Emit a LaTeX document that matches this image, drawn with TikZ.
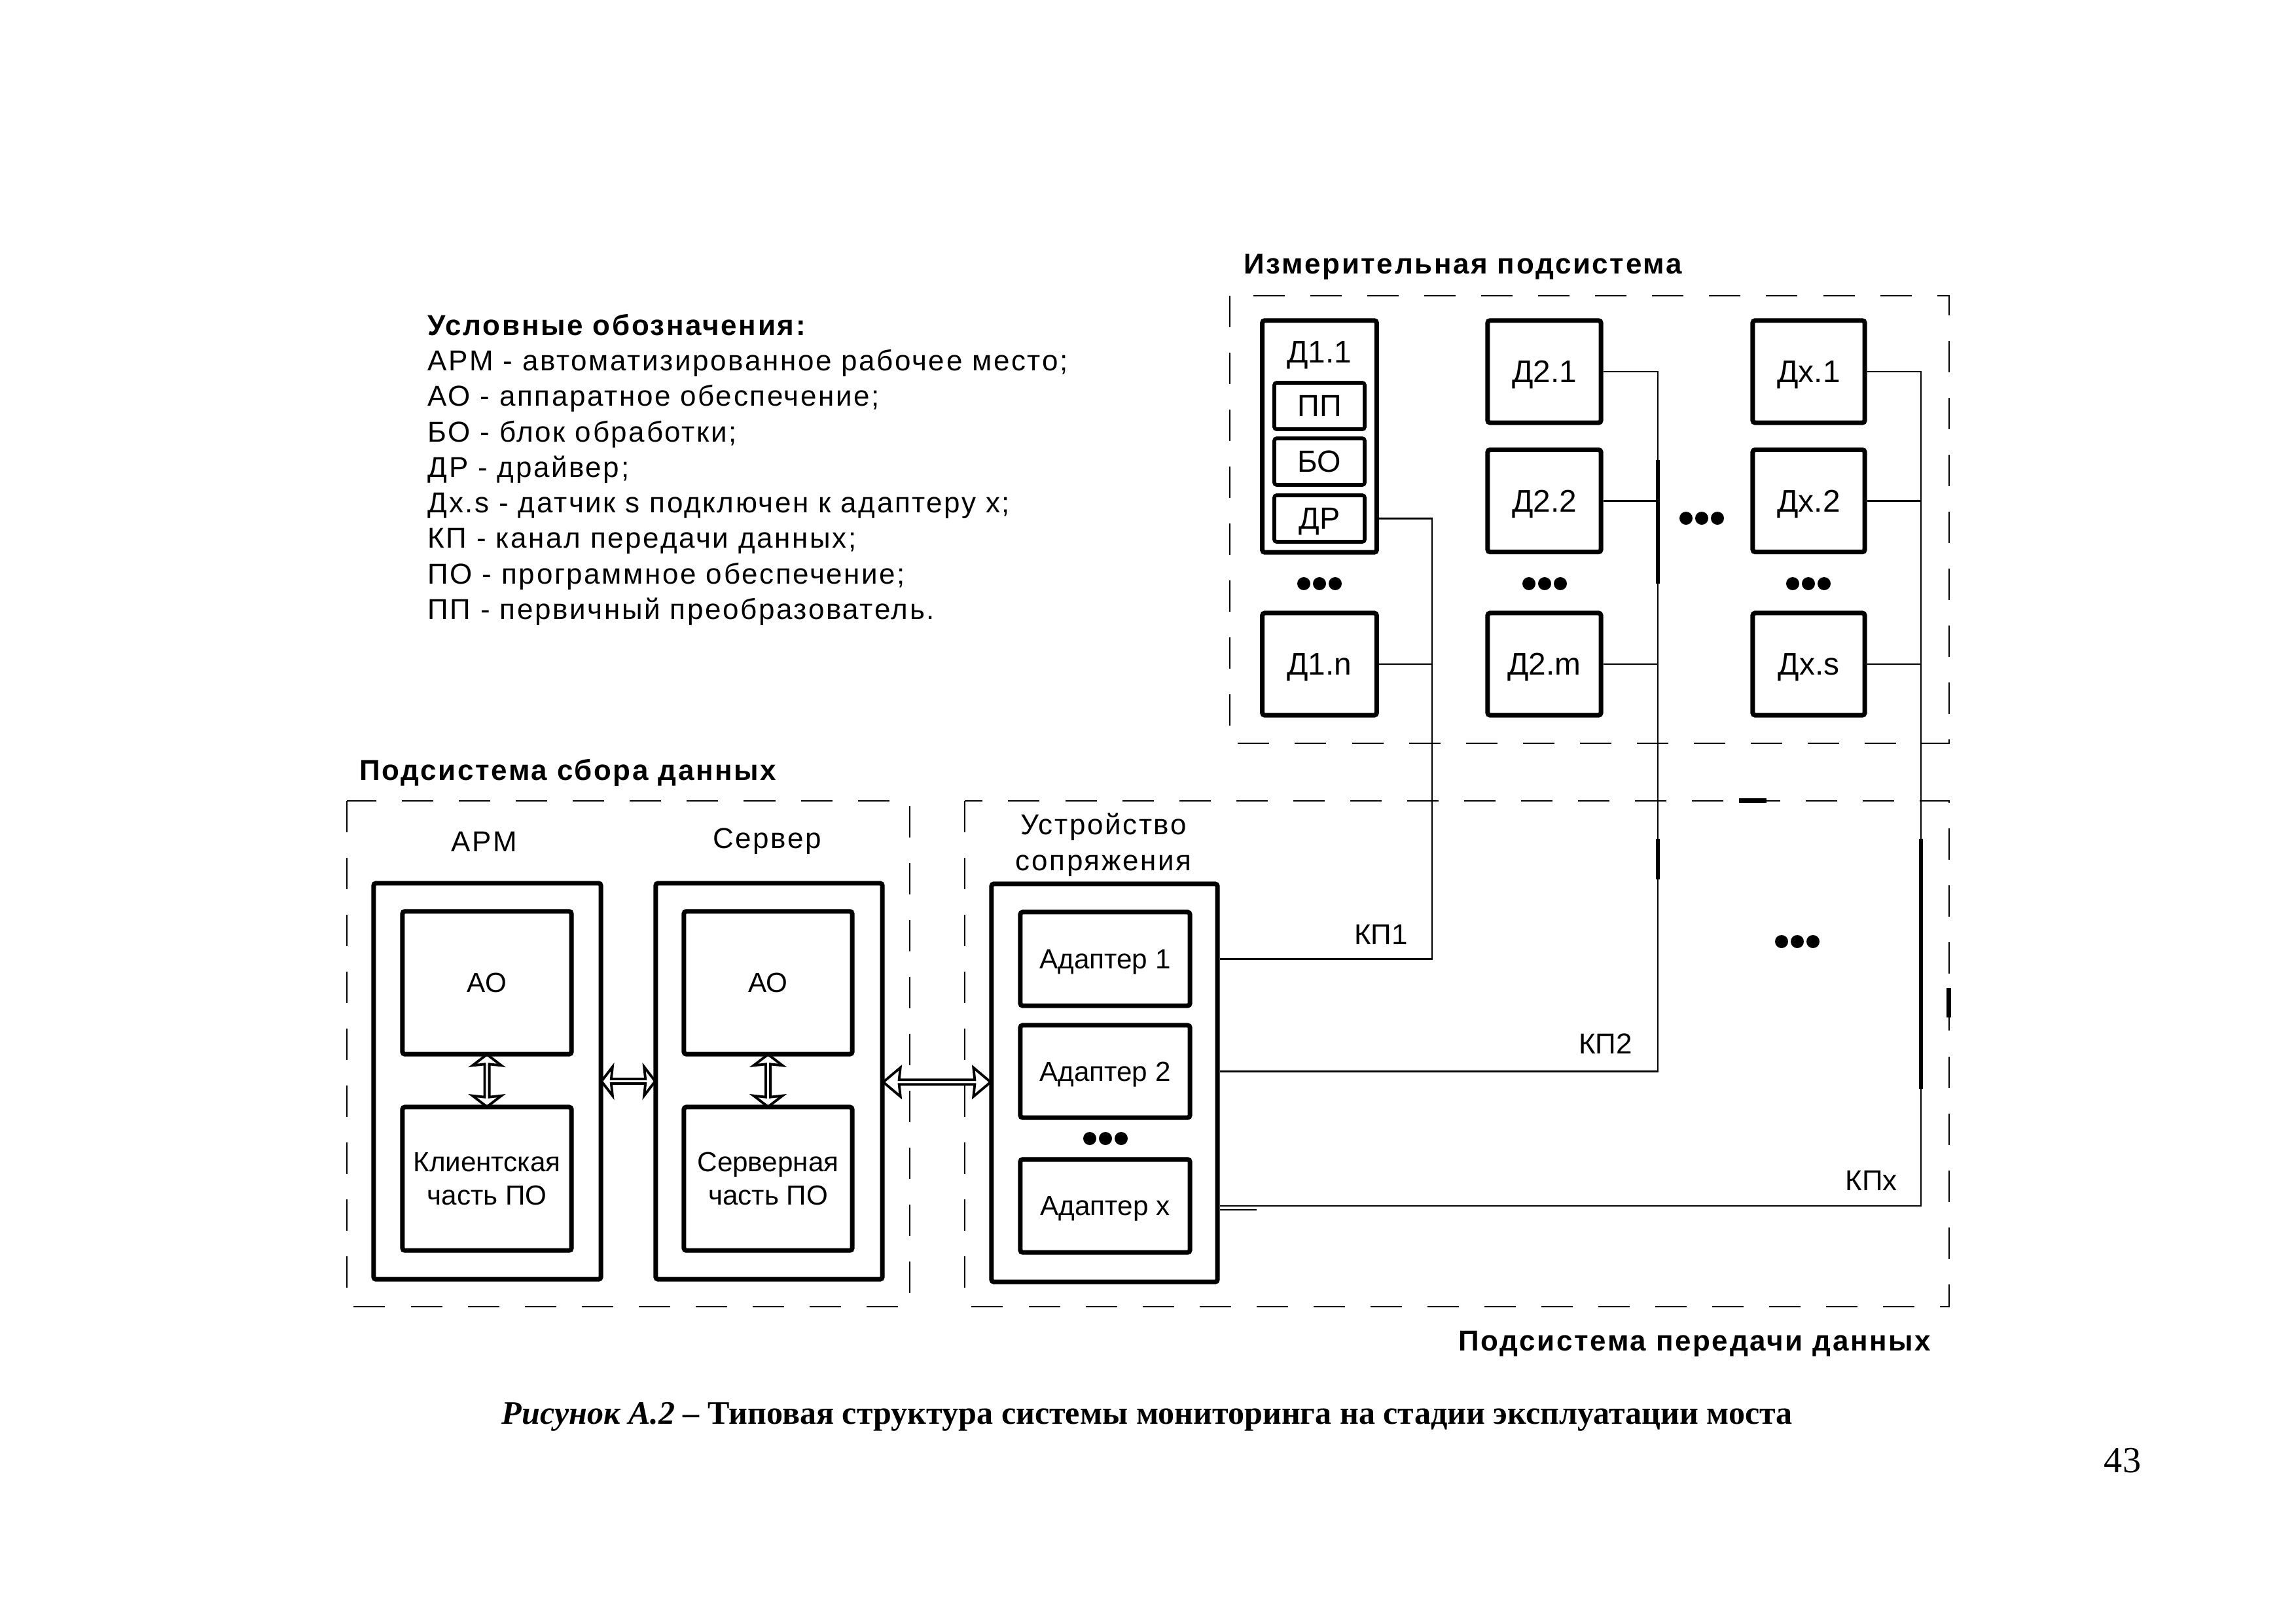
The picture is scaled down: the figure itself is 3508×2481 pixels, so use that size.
\documentclass[tikz,border=0pt]{standalone}
\usepackage{fontspec}
\setmainfont{Liberation Sans}
\newfontfamily\trk[LetterSpace=6]{Liberation Sans}
\newfontfamily\serif{Liberation Serif}
\usetikzlibrary{shapes.arrows,calc}
\tikzset{
  box/.style={draw, line width=2pt, inner sep=0pt, rounded corners=1pt, align=center, text depth=0pt, font=\fontsize{13.6}{15}\selectfont},
  sbox/.style={box, line width=1.6pt, font=\fontsize{13.3}{15}\selectfont},
  adbox/.style={box, font=\fontsize{12}{14.5}\selectfont},
  conn/.style={line width=0.7pt},
  grp/.style={line width=0.8pt, dash pattern=on 0.48cm off 0.39cm},
  hdr/.style={font=\trk\bfseries\fontsize{12.5}{15}\selectfont, inner sep=0pt, anchor=base west},
  leg/.style={font=\trk\fontsize{12.5}{15}\selectfont, inner sep=0pt, anchor=base west},
  lbl/.style={font=\fontsize{13.6}{15}\selectfont, inner sep=0pt, text depth=0pt},
  klbl/.style={font=\fontsize{12.5}{15}\selectfont, inner sep=0pt, text depth=0pt},
  tlbl/.style={font=\trk\fontsize{12.5}{15.6}\selectfont, inner sep=0pt, align=center},
  dbl/.style={double arrow, draw, line width=1.1pt, inner sep=0pt, minimum width=0.44cm, double arrow head extend=0.1cm, double arrow head indent=0.02cm, double arrow tip angle=105},
  busthick/.style={line width=1.8pt},
}
\begin{document}
\begin{tikzpicture}[x=0.01cm, y=-0.01cm]
\useasboundingbox (0,0) rectangle (3508,2481);

% ---------- legend ----------
\node[hdr] (l0) at (653,512) {Условные обозначения:};
\node[leg] (l1) at (653,566) {АРМ - автоматизированное рабочее место;};
\node[leg] (l2) at (653,620) {АО - аппаратное обеспечение;};
\node[leg] (l3) at (653,675) {БО - блок обработки;};
\node[leg] (l4) at (653,729) {ДР - драйвер;};
\node[leg] (l5) at (653,783) {Дх.s - датчик s подключен к адаптеру x;};
\node[leg] (l6) at (653,837) {КП - канал передачи данных;};
\node[leg] (l7) at (653,892) {ПО - программное обеспечение;};
\node[leg] (l8) at (653,946) {ПП - первичный преобразователь.};

% ---------- group frames ----------
\draw[grp] (1879,452) rectangle (2978,1136);
\draw[grp] (530,1224) rectangle (1390,1997);
\draw[grp] (1474,1224) rectangle (2978,1997);
\node[hdr] (tmeas) at (1900,418) {Измерительная подсистема};
\node[hdr] (tcoll) at (549,1192) {Подсистема сбора данных};
\node[hdr] (ttran) at (2228,2064) {Подсистема передачи данных};

% ---------- measurement subsystem ----------
\node[box, minimum width=1.745cm, minimum height=3.54cm] (D11) at (2016,667) {};
\node[lbl] (D11t) at (2016,538) {Д1.1};
\node[sbox, minimum width=1.38cm, minimum height=0.71cm] (PP) at (2016,620.5) {ПП};
\node[sbox, minimum width=1.38cm, minimum height=0.71cm] (BO) at (2016,705.5) {БО};
\node[sbox, minimum width=1.38cm, minimum height=0.71cm] (DR) at (2016,792.5) {ДР};
\node[box, minimum width=1.745cm, minimum height=1.56cm] (D1n) at (2016,1015) {Д1.n};
\node[box, minimum width=1.73cm, minimum height=1.56cm] (D21) at (2359.5,568) {Д2.1};
\node[box, minimum width=1.73cm, minimum height=1.56cm] (D22) at (2359.5,765.5) {Д2.2};
\node[box, minimum width=1.73cm, minimum height=1.56cm] (D2m) at (2359.5,1015) {Д2.m};
\node[box, minimum width=1.71cm, minimum height=1.56cm] (Dx1) at (2763.5,568) {Дх.1};
\node[box, minimum width=1.71cm, minimum height=1.56cm] (Dx2) at (2763.5,765.5) {Дх.2};
\node[box, minimum width=1.71cm, minimum height=1.56cm] (Dxs) at (2763.5,1015) {Дх.s};

% ---------- data collection subsystem ----------
\node[tlbl] (tarm) at (740,1286) {АРМ};
\node[tlbl] (tsrv) at (1172,1286) {Сервер};
\node[box, minimum width=3.47cm, minimum height=6.05cm] (ARM) at (744.5,1652.5) {};
\node[box, minimum width=3.46cm, minimum height=6.05cm] (SRV) at (1175,1652.5) {};
\node[adbox, minimum width=2.58cm, minimum height=2.18cm] (ARMao) at (744,1502) {АО};
\node[adbox, minimum width=2.58cm, minimum height=2.19cm] (ARMpo) at (744,1801.5) {Клиентская\\часть ПО};
\node[adbox, minimum width=2.57cm, minimum height=2.18cm] (SRVao) at (1173.5,1502) {АО};
\node[adbox, minimum width=2.57cm, minimum height=2.19cm] (SRVpo) at (1173.5,1801.5) {Серверная\\часть ПО};

% ---------- interface device ----------
\node[tlbl] (tus) at (1686,1291) {Устройство\\сопряжения};
\node[box, minimum width=3.45cm, minimum height=6.08cm] (US) at (1687.5,1655) {};
\node[adbox, minimum width=2.59cm, minimum height=1.43cm] (Ad1) at (1688.5,1465.5) {Адаптер 1};
\node[adbox, minimum width=2.59cm, minimum height=1.41cm] (Ad2) at (1688.5,1637.5) {Адаптер 2};
\node[adbox, minimum width=2.59cm, minimum height=1.42cm] (Adx) at (1688.5,1843) {Адаптер x};

% ---------- double arrows ----------
\node[dbl, minimum height=0.8cm, shape border rotate=90] (a1) at ($(ARMao.south)!0.5!(ARMpo.north)$) {};
\node[dbl, minimum height=0.8cm, shape border rotate=90] (a2) at ($(SRVao.south)!0.5!(SRVpo.north)$) {};
\node[dbl, minimum height=0.82cm] (a3) at ($(ARM.east)!0.5!(SRV.west)$) {};
\node[dbl, minimum height=1.64cm, double arrow tip angle=80] (a4) at ($(SRV.east)!0.5!(US.west)$) {};

% ---------- buses ----------
\coordinate (bus1) at (2188,792.5);
\coordinate (bus2) at (2533,568);
\coordinate (bus3) at (2935,568);
\draw[conn] (D11.east |- DR.east) -- (bus1) |- (US.east |- Ad1.east);
\draw[conn] (D1n.east) -- (bus1 |- D1n.east);
\draw[conn] (D21.east) -- (bus2) |- (US.east |- Ad2.east);
\draw[conn] (D22.east) -- (bus2 |- D22.east);
\draw[conn] (D2m.east) -- (bus2 |- D2m.east);
\draw[conn] (Dx1.east) -- (bus3) |- (US.east |- Adx.east);
\draw[conn] (Dx2.east) -- (bus3 |- Dx2.east);
\draw[conn] (Dxs.east) -- (bus3 |- Dxs.east);
\coordinate (stub) at (1920,1849);
\draw[conn] (US.east |- stub) -- (stub);
\draw[busthick] (2533,703) -- (2533,892);
\draw[busthick] (2533,1282) -- (2533,1344);
\draw[busthick] (2935,1282) -- (2935,1664);
\draw[line width=2pt] (2657,1223) -- (2699,1223);
\draw[line width=2pt] (2977,1510) -- (2977,1555);

\node[klbl] (kp1) at (2110,1428) {КП1};
\node[klbl] (kp2) at (2453,1595) {КП2};
\node[klbl] (kpx) at (2859,1804) {КПx};

% ---------- ellipsis dots ----------
\foreach \cx/\cy in {2016/892, 2360/892, 2763/892, 2600/792, 1689/1740, 2746/1439}{
  \foreach \dx in {-24,0,24} \fill ({\cx+\dx},\cy) circle (0.1cm);
}

% ---------- caption ----------
\node[font=\serif\fontsize{14.25}{18}\selectfont, anchor=base, inner sep=0pt] (cap) at (1753,2176)
  {\textbf{\textit{Рисунок А.2}} \textbf{– Типовая структура системы мониторинга на стадии эксплуатации моста}};
\node[font=\serif\fontsize{16}{19}\selectfont, anchor=base, inner sep=0pt] (pg) at (3243,2250) {43};
\end{tikzpicture}
\end{document}
